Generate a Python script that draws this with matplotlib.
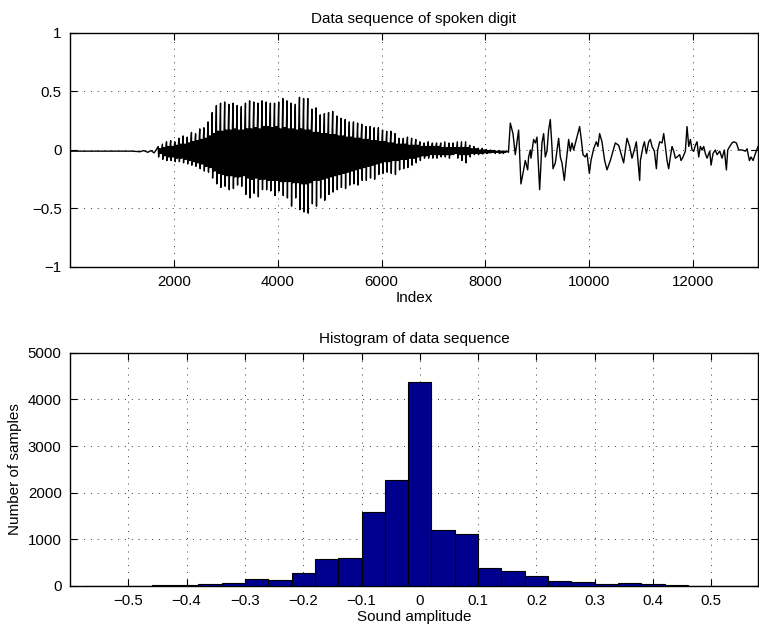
import numpy as np
from matplotlib import pyplot as plt

plt.rcParams['font.family'] = ['Liberation Sans', 'DejaVu Sans']

# quiet lead-in before the voice starts (sample index, amplitude)
silence_idx = [1, 600, 1200, 1350, 1420, 1500, 1560, 1620, 1660]
silence_val = [-0.01, -0.01, -0.01, -0.015, -0.005, -0.02, -0.005, -0.025, 0.0]

# voiced part: one entry per pitch period
pulse_idx = [1700, 1780, 1860, 1940, 2020, 2100, 2180, 2260, 2340, 2420,
             2500, 2580, 2660, 2740, 2820, 2900, 2980, 3060, 3140, 3220,
             3300, 3380, 3460, 3540, 3620, 3700, 3780, 3860, 3940, 4020,
             4100, 4180, 4260, 4340, 4420, 4500, 4580, 4660, 4740, 4820,
             4900, 4980, 5060, 5140, 5220, 5300, 5380, 5460, 5540, 5620,
             5700, 5780, 5860, 5940, 6020, 6100, 6180, 6260, 6340, 6420,
             6500, 6580, 6660, 6740, 6820, 6900, 6980, 7060, 7140, 7220,
             7300, 7380, 7460, 7540, 7620, 7700, 7780, 7860, 7940, 8020,
             8100, 8180, 8260, 8340]
pulse_hi = [0.03, 0.05, 0.07, 0.08, 0.07, 0.10, 0.12, 0.11, 0.15, 0.14,
            0.18, 0.19, 0.24, 0.32, 0.38, 0.40, 0.41, 0.39, 0.40, 0.38,
            0.37, 0.40, 0.42, 0.41, 0.40, 0.42, 0.41, 0.40, 0.40, 0.41,
            0.44, 0.42, 0.40, 0.39, 0.45, 0.44, 0.44, 0.35, 0.36, 0.30,
            0.31, 0.32, 0.33, 0.29, 0.27, 0.26, 0.24, 0.24, 0.23, 0.22,
            0.20, 0.20, 0.19, 0.19, 0.17, 0.16, 0.16, 0.14, 0.10, 0.10,
            0.11, 0.10, 0.09, 0.07, 0.06, 0.07, 0.06, 0.06, 0.06, 0.07,
            0.06, 0.06, 0.07, 0.07, 0.07, 0.04, 0.03, 0.015, 0.015, 0.005,
            0.0, -0.005, -0.005, -0.01]
pulse_lo = [-0.06, -0.08, -0.09, -0.09, -0.10, -0.10, -0.11, -0.12, -0.13, -0.14,
            -0.16, -0.18, -0.19, -0.24, -0.29, -0.32, -0.31, -0.34, -0.33, -0.30,
            -0.31, -0.38, -0.41, -0.37, -0.40, -0.34, -0.34, -0.35, -0.39, -0.35,
            -0.39, -0.41, -0.48, -0.41, -0.51, -0.53, -0.54, -0.46, -0.48, -0.41,
            -0.43, -0.38, -0.36, -0.34, -0.32, -0.33, -0.30, -0.29, -0.30, -0.26,
            -0.26, -0.24, -0.25, -0.21, -0.20, -0.19, -0.20, -0.21, -0.17, -0.16,
            -0.15, -0.13, -0.11, -0.09, -0.07, -0.07, -0.07, -0.07, -0.06, -0.06,
            -0.07, -0.04, -0.07, -0.09, -0.11, -0.06, -0.04, -0.04, -0.035, -0.03,
            -0.025, -0.03, -0.03, -0.03]
band_hi = [0.01, 0.02, 0.03, 0.03, 0.04, 0.05, 0.05, 0.06, 0.07, 0.08,
           0.09, 0.10, 0.12, 0.14, 0.16, 0.16, 0.17, 0.17, 0.18, 0.17,
           0.17, 0.18, 0.18, 0.19, 0.18, 0.20, 0.20, 0.19, 0.20, 0.18,
           0.19, 0.18, 0.18, 0.17, 0.18, 0.17, 0.17, 0.15, 0.15, 0.14,
           0.14, 0.13, 0.13, 0.12, 0.12, 0.11, 0.11, 0.10, 0.10, 0.09,
           0.09, 0.08, 0.08, 0.07, 0.07, 0.06, 0.06, 0.05, 0.05, 0.05,
           0.04, 0.04, 0.04, 0.03, 0.03, 0.03, 0.03, 0.03, 0.02, 0.02,
           0.02, 0.02, 0.02, 0.02, 0.02, 0.01, 0.01, 0.0, 0.0, -0.005,
           -0.005, -0.01, -0.01, -0.01]
band_lo = [-0.03, -0.05, -0.06, -0.06, -0.07, -0.07, -0.08, -0.09, -0.10, -0.11,
           -0.12, -0.14, -0.15, -0.18, -0.20, -0.21, -0.22, -0.22, -0.23, -0.23,
           -0.22, -0.24, -0.25, -0.24, -0.25, -0.25, -0.26, -0.26, -0.26, -0.27,
           -0.27, -0.27, -0.28, -0.28, -0.29, -0.29, -0.28, -0.26, -0.26, -0.25,
           -0.24, -0.23, -0.22, -0.21, -0.20, -0.19, -0.18, -0.17, -0.16, -0.15,
           -0.14, -0.13, -0.12, -0.11, -0.10, -0.10, -0.09, -0.09, -0.08, -0.08,
           -0.07, -0.07, -0.06, -0.05, -0.05, -0.04, -0.04, -0.04, -0.04, -0.04,
           -0.04, -0.03, -0.04, -0.04, -0.04, -0.03, -0.03, -0.03, -0.025, -0.025,
           -0.02, -0.02, -0.025, -0.02]

# unvoiced tail (sample index, amplitude)
noise_idx = [8415, 8445, 8480, 8531, 8576, 8640, 8685, 8724, 8769, 8814,
             8833, 8865, 8878, 8929, 8962, 8994, 9045, 9090, 9122, 9154,
             9186, 9218, 9250, 9282, 9302, 9347, 9411, 9443, 9475, 9520,
             9559, 9604, 9636, 9668, 9700, 9764, 9815, 9847, 9880, 9924,
             9957, 10002, 10034, 10085, 10136, 10168, 10200, 10245, 10297, 10342,
             10406, 10438, 10502, 10567, 10662, 10727, 10778, 10823, 10868, 10907,
             10971, 10985, 11036, 11062, 11100, 11145, 11177, 11209, 11254, 11293,
             11318, 11357, 11402, 11434, 11466, 11498, 11530, 11562, 11594, 11627,
             11659, 11691, 11742, 11768, 11806, 11851, 11883, 11916, 11948, 11980,
             12012, 12044, 12076, 12108, 12140, 12172, 12204, 12236, 12269, 12320,
             12346, 12384, 12429, 12461, 12513, 12557, 12602, 12641, 12667, 12705,
             12750, 12782, 12833, 12879, 12943, 13007, 13039, 13084, 13116, 13155,
             13200, 13251]
noise_val = [-0.01, -0.02, 0.23, 0.14, -0.04, 0.17, -0.29, -0.20, -0.09, -0.17,
             -0.06, 0.0, -0.07, 0.09, 0.06, 0.11, -0.34, 0.06, 0.14, -0.06,
             -0.01, 0.17, 0.26, 0.03, -0.16, -0.11, 0.10, -0.06, -0.11, -0.26,
             -0.09, 0.09, -0.01, 0.06, 0.0, 0.11, 0.20, 0.09, -0.04, -0.06,
             -0.03, -0.20, -0.09, 0.01, 0.07, 0.03, 0.14, 0.07, -0.09, -0.17,
             -0.09, -0.04, 0.06, 0.04, -0.11, 0.10, 0.03, -0.07, 0.0, 0.07,
             -0.26, -0.09, 0.03, 0.07, -0.03, 0.07, 0.09, 0.03, -0.01, -0.16,
             0.0, 0.07, 0.06, 0.14, 0.03, -0.09, -0.16, -0.06, 0.03, -0.01,
             -0.07, -0.06, -0.04, -0.09, -0.06, -0.01, 0.20, 0.03, 0.09, 0.0,
             -0.01, 0.04, 0.07, -0.06, 0.03, 0.0, 0.03, -0.03, -0.07, -0.01,
             -0.13, -0.03, 0.0, -0.04, -0.01, -0.07, 0.0, -0.17, 0.0, 0.03,
             0.06, 0.07, 0.06, 0.0, 0.0, -0.01, 0.01, -0.09, -0.06, -0.09,
             -0.03, 0.03]

# histogram of the sequence
bin_centers = [-0.56, -0.52, -0.48, -0.44, -0.40, -0.36, -0.32, -0.28, -0.24, -0.20,
               -0.16, -0.12, -0.08, -0.04, 0.0, 0.04, 0.08, 0.12, 0.16, 0.20,
               0.24, 0.28, 0.32, 0.36, 0.40, 0.44, 0.48, 0.52, 0.56]
bin_counts = [2, 3, 6, 25, 14, 50, 64, 143, 129, 279,
              586, 600, 1586, 2271, 4371, 1193, 1107, 386, 321, 207,
              107, 79, 43, 57, 36, 20, 4, 2, 1]

# shape of one pitch period (sample offsets of the points inside it)
cycle_offsets = [0, 8, 19, 30, 42, 55, 68]


def build_trace():
    idx = list(silence_idx)
    val = list(silence_val)
    for p, hi, lo, bh, bl in zip(pulse_idx, pulse_hi, pulse_lo, band_hi, band_lo):
        for off, v in zip(cycle_offsets, [hi, lo, bh, bl, bh, bl, bh]):
            idx.append(p + off)
            val.append(v)
    idx += noise_idx
    val += noise_val
    return np.array(idx), np.array(val)


def matlab_style(ax):
    ax.tick_params(direction='in', length=5, width=0.8, top=True, right=True,
                   labelsize=10.8, pad=6)
    ax.grid(True, linestyle=(0, (1, 6)), color='0.2', linewidth=0.7)
    for s in ax.spines.values():
        s.set_linewidth(1.0)


fig = plt.figure(figsize=(7.59, 6.27), dpi=100)
ax1 = fig.add_axes([0.0922, 0.5742, 0.9065, 0.3732])
ax2 = fig.add_axes([0.0922, 0.0654, 0.9065, 0.3721])

x, y = build_trace()
ax1.plot(x, y, color='black', linewidth=1.0)
ax1.set_xlim(1, 13250)
ax1.set_ylim(-1, 1)
ax1.set_xticks([2000, 4000, 6000, 8000, 10000, 12000])
ax1.set_yticks([-1, -0.5, 0, 0.5, 1])
ax1.set_yticklabels(['\u22121', '\u22120.5', '0', '0.5', '1'])
ax1.set_title('Data sequence of spoken digit', fontsize=11, pad=7)
ax1.set_xlabel('Index', fontsize=11, labelpad=1)
matlab_style(ax1)

ax2.bar(bin_centers, bin_counts, width=0.04, color='#00008f', edgecolor='black',
        linewidth=0.8, zorder=3)
ax2.set_xlim(-0.6, 0.58)
ax2.set_ylim(0, 5000)
ax2.set_xticks([-0.5, -0.4, -0.3, -0.2, -0.1, 0, 0.1, 0.2, 0.3, 0.4, 0.5])
ax2.set_xticklabels(['\u22120.5', '\u22120.4', '\u22120.3', '\u22120.2', '\u22120.1',
                     '0', '0.1', '0.2', '0.3', '0.4', '0.5'])
ax2.set_yticks([0, 1000, 2000, 3000, 4000, 5000])
ax2.set_title('Histogram of data sequence', fontsize=11, pad=7)
ax2.set_xlabel('Sound amplitude', fontsize=11, labelpad=1)
ax2.set_ylabel('Number of samples', fontsize=11)
matlab_style(ax2)
ax2.set_axisbelow(True)

fig.savefig('out.png', dpi=100)
